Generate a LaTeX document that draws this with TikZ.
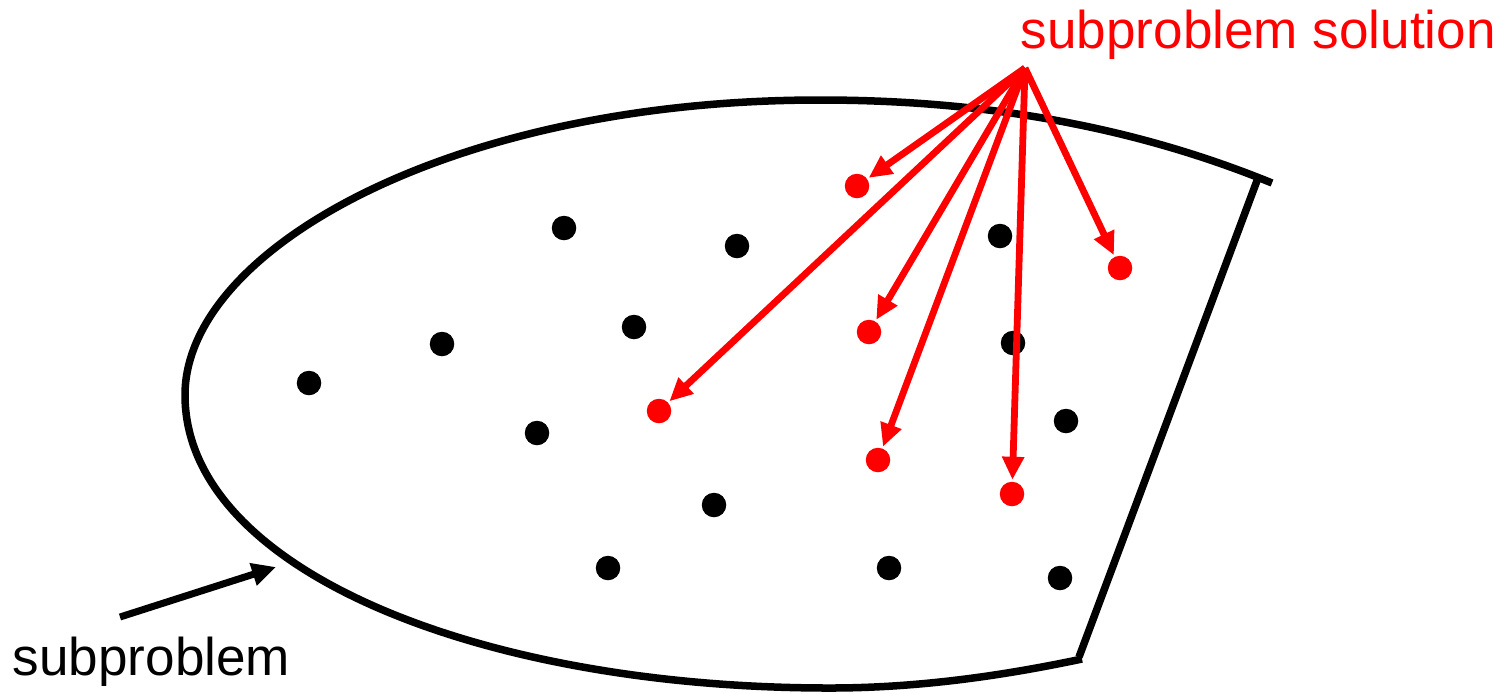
\documentclass[tikz,border=0pt]{standalone}
\usepackage{fontspec}
\setmainfont{Liberation Sans}
\usetikzlibrary{arrows.meta}
\begin{document}
\begin{tikzpicture}[x=0.01cm,y=-0.01cm,
  dotb/.style={circle,fill=black,inner sep=0pt,minimum size=0.245cm,outer sep=0pt},
  dotr/.style={circle,fill=red,inner sep=0pt,minimum size=0.245cm,outer sep=0pt},
  redarrow/.style={draw=red,line width=0.068cm,-{Triangle[length=0.23cm,width=0.21cm]},shorten >=0.02cm},
  blackarrow/.style={draw=black,line width=0.07cm,-{Triangle[length=0.24cm,width=0.22cm]}},
  region/.style={draw=black,line width=0.075cm},
  lbl/.style={font=\fontsize{15.1}{18}\selectfont,inner sep=0pt,anchor=base west}]
\useasboundingbox (0,0) rectangle (1503,693);
% region outline
\draw[region] (1272,183) .. controls (1130,125) and (980,100) .. (820,100)
  .. controls (450,100) and (185,250) .. (185,395)
  .. controls (185,570) and (480,688) .. (830,688)
  .. controls (930,688) and (1020,672) .. (1082,659);
\coordinate (tr) at (1258,178);
\coordinate (br) at (1079,657);
\draw[region] (tr) -- (br);
% black dots
\node[dotb] (b1) at (564,228) {};
\node[dotb] (b2) at (737,246) {};
\node[dotb] (b3) at (1000,236) {};
\node[dotb] (b4) at (442,344) {};
\node[dotb] (b5) at (634,327) {};
\node[dotb] (b6) at (1013,343) {};
\node[dotb] (b7) at (309,383) {};
\node[dotb] (b8) at (537,433) {};
\node[dotb] (b9) at (1066,421) {};
\node[dotb] (b10) at (714,505) {};
\node[dotb] (b11) at (608,568) {};
\node[dotb] (b12) at (889,568) {};
\node[dotb] (b13) at (1060,578) {};
% red dots
\node[dotr] (r1) at (857,186) {};
\node[dotr] (r2) at (1120,268) {};
\node[dotr] (r3) at (869,332) {};
\node[dotr] (r4) at (659,411) {};
\node[dotr] (r5) at (878,460) {};
\node[dotr] (r6) at (1012,494) {};
% labels
\node[lbl,text=red] (sol) at (1020,48) {subproblem solution};
\node[lbl] (sub) at (12,675) {subproblem};
\coordinate (apex) at (1025,68);
\foreach \r in {r1,r2,r3,r4,r5,r6} \draw[redarrow] (apex) -- (\r);
\coordinate (bs) at (120,617);
\coordinate (be) at (276,567);
\draw[blackarrow] (bs) -- (be);
\end{tikzpicture}
\end{document}
